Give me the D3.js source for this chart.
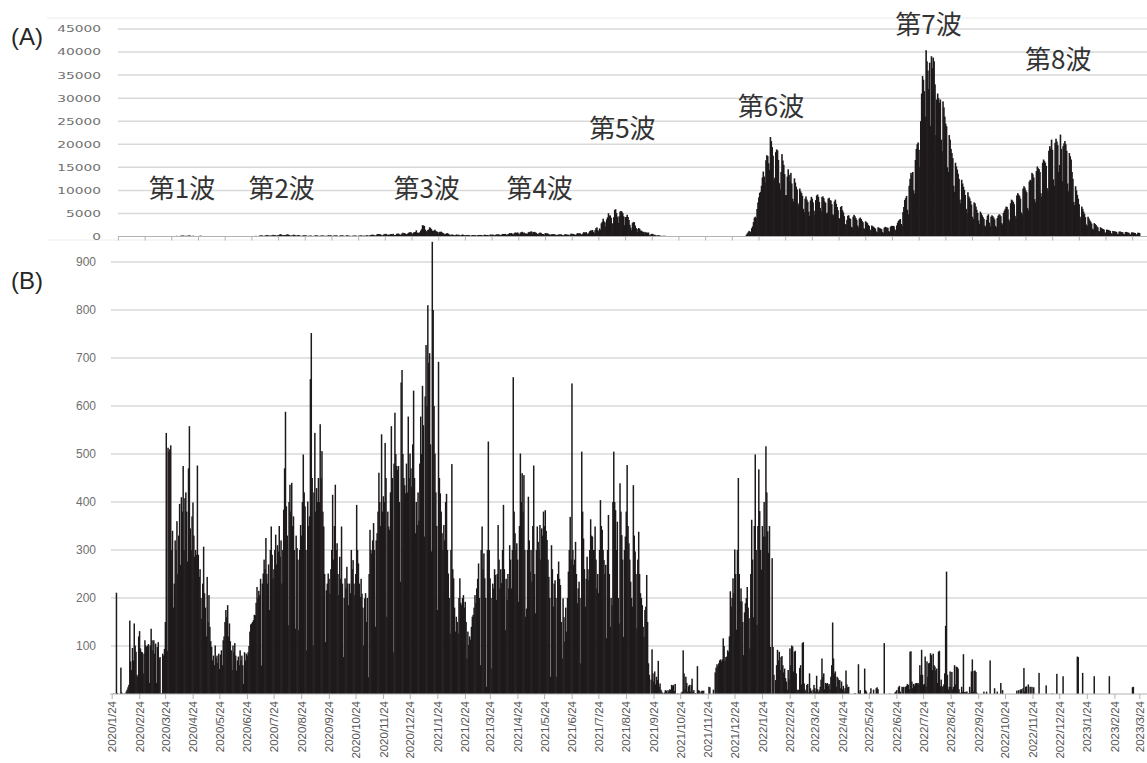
<!DOCTYPE html>
<html>
<head>
<meta charset="utf-8">
<script src="https://cdn.jsdelivr.net/npm/d3@7"></script>
<style>
  body { margin: 0; background: #fff; }
  svg { display: block; }
</style>
</head>
<body>
<div id="chart"></div>
<script>
// month ticks (24th of every month) - every data row below starts on one of these dates
var monthLabels = ["2020/1/24", "2020/2/24", "2020/3/24", "2020/4/24", "2020/5/24", "2020/6/24",
    "2020/7/24", "2020/8/24", "2020/9/24", "2020/10/24", "2020/11/24", "2020/12/24",
    "2021/1/24", "2021/2/24", "2021/3/24", "2021/4/24", "2021/5/24", "2021/6/24",
    "2021/7/24", "2021/8/24", "2021/9/24", "2021/10/24", "2021/11/24", "2021/12/24",
    "2022/1/24", "2022/2/24", "2022/3/24", "2022/4/24", "2022/5/24", "2022/6/24",
    "2022/7/24", "2022/8/24", "2022/9/24", "2022/10/24", "2022/11/24", "2022/12/24",
    "2023/1/24", "2023/2/24", "2023/3/24"];

// (A) daily new cases, one row per month (from the 24th)
var casesA = [
    [1,0,0,0,0,1,1,0,0,0,0,0,0,0,0,0,0,0,1,0,1,0,2,1,8,3,2,1,3,3,2],
    [1,2,3,2,1,3,1,1,3,8,6,6,2,9,2,5,3,7,0,10,6,2,3,10,12,7,3,5,16],
    [17,41,47,40,63,68,68,13,78,66,97,89,116,143,83,79,81,144,178,189,197,166,91,161,126,149,201,206,181,107,102],
    [161,134,103,72,39,112,47,46,165,154,91,87,58,102,38,23,39,22,15,36,30,10,9,30,10,5,11,3,5,2],
    [14,8,10,11,15,22,11,14,22,5,13,34,12,28,26,20,14,12,18,22,24,25,47,48,27,41,35,29,31,55,31],
    [55,48,54,57,60,58,54,67,107,124,131,111,102,75,224,206,243,206,119,143,165,286,293,290,206,168,175,238,187,366],
    [260,295,239,131,266,250,367,463,472,292,258,309,263,331,360,462,429,331,197,188,222,206,389,339,260,161,207,339,258,212,148],
    [95,182,236,250,226,247,148,100,170,141,211,181,116,77,170,149,276,187,218,146,80,163,191,220,172,218,98,88,195,59,270],
    [195,215,270,144,78,194,218,196,235,207,108,102,177,258,186,249,178,146,78,166,283,203,180,150,132,77,139,186,185,186],
    [203,124,102,158,171,221,215,199,87,209,122,170,269,242,189,103,293,317,393,374,352,255,180,298,493,534,522,539,391,314,186],
    [401,481,570,561,418,311,418,372,500,533,449,584,327,299,352,602,595,621,480,305,460,678,822,664,736,556,460,563,748,888],
    [884,949,708,481,856,944,981,1337,783,814,816,884,1278,1591,2447,2392,2268,1494,1219,970,1433,1502,2001,1809,1592,1204,1240,1274,1471,1175,1070],
    [986,618,1026,973,1064,868,769,633,393,556,676,734,577,429,276,412,370,429,307,245,291,434,377,369,371,266,178,341,445,327,275],
    [213,340,270,329,337,232,121,232,316,279,301,293,237,116,290,335,304,340,320,239,175,294,409,303,323,342,256,187],
    [420,394,376,430,313,234,364,414,475,440,446,355,249,399,555,545,537,570,421,306,510,591,729,667,759,543,405,711,843,861,759],
    [876,635,425,828,925,1027,698,879,708,621,609,591,907,1010,907,1121,1032,573,963,1010,854,772,542,419,732,843,802,614,541,535],
    [340,743,684,689,614,539,309,393,471,487,508,472,436,351,288,369,440,439,436,467,304,209,337,501,452,453,388,376,236,435,619],
    [570,562,534,386,317,476,714,673,660,716,518,342,593,920,896,822,950,614,502,830,1149,1308,1271,1410,1008,727,1387,1832,1979,1359],
    [1128,1763,1429,2848,3177,3865,3300,3058,2195,3709,4166,5042,4515,4566,4066,2884,2612,4200,5773,5908,5094,4295,2962,4377,5386,5534,5405,5074,4392,2447,4220],
    [4228,4704,4227,3581,2539,1915,1332,2909,3168,3099,2362,1853,1629,968,1834,1675,1242,1273,1067,1007,611,1004,831,871,782,862,302,253,537,585,542],
    [235,382,265,154,248,267,218,200,144,87,149,143,138,139,60,49,77,72,62,82,60,40,36,41,36,29,26,32,26,36],
    [19,17,29,36,21,32,23,22,9,18,22,24,32,21,21,6,18,20,23,15,26,20,5,16,17,16,21,20,9,8,12],
    [12,13,21,24,13,11,9,15,17,13,18,22,20,16,9,21,22,17,32,33,29,21,12,28,21,40,32,30,17,21],
    [37,29,31,24,33,46,64,76,78,79,84,103,79,390,641,922,1224,1000,1053,1800,2198,3124,4051,4300,4000,5963,7377,8500,9468,9699,11000],
    [12813,14086,13000,11751,16538,17631,17433,15895,14445,21576,20679,19390,17526,12214,12751,18287,18891,18676,16604,11568,10176,14000,17864,16491,15525,13515,8970,9000,13000,14567,13376],
    [12000,13800,11500,8200,7600,12600,11700,10800,10200,7200,6700,10400,9800,9400,8800,6000,5300,8200,8700,8000,7500,5400,4500,7800,8600,8200,7400,5600],
    [4700,7900,8900,9100,8600,7500,6200,5500,8600,8700,8300,7600,7300,5000,5200,8200,8400,7900,7800,7000,4800,4600,7600,8000,7100,6400,5700,4000,3800,6400,6600],
    [5700,5200,4400,2700,2500,3600,4500,4600,4000,3800,2100,1900,4300,4700,4400,4000,3600,2400,2000,3900,4100,3800,3400,3100,1800,1600,3300,3100,2900,2500],
    [2300,1500,1200,2400,2200,2100,1900,1700,1100,900,2000,1900,1800,1700,1600,1000,800,1900,2100,2000,1900,1900,1200,1000,2100,2300,2300,2300,2200,1500,1300],
    [2400,3000,3400,3600,3800,2700,2300,5300,6400,7900,8300,8800,5800,4800,11000,12500,13800,13300,14000,10000,9300,16600,19000,20000,20400,18800,15000,25000,31000,34800],
    [34000,31500,26000,40400,38000,36000,32000,37700,24000,39100,36500,38800,38000,33000,22000,29700,31000,30000,29000,29700,21000,18500,29300,28000,26000,24500,23900,15000,14000,22000,21000],
    [19000,18100,17000,11000,9700,16000,15200,14500,13600,12500,8000,7200,12300,11500,10800,10100,9000,6000,5000,9600,8700,8300,7700,6900,4300,3800,7400,7200,6500,5800,5100],
    [3500,2700,5400,5000,4600,4200,3800,2400,2100,3600,4500,4800,3000,2200,4300,4600,4400,4100,3700,2300,2000,4000,4500,4800,4700,4400,2900,2600,5100,5600],
    [6000,6500,6400,5900,3700,3300,7200,8000,7800,7500,7000,4500,4000,8900,9400,9100,8800,8200,5200,4800,10400,10900,10600,10000,9600,6200,5700,11900,12300,12000,13800],
    [13500,12800,8100,7400,14200,15200,14800,14600,14000,9400,8600,16000,16700,16400,16000,15300,10500,9900,18600,19600,19100,21000,18800,12400,11000,20300,21200,20600,19800,14000],
    [15500,22100,19000,12000,19600,20200,20700,20000,18600,11500,9800,18100,17400,16700,14000,12500,7500,6800,10900,10000,9000,8200,7000,4300,3800,6500,6000,5400,4900,4200,2600],
    [2300,4300,3900,3500,3200,2800,1700,1500,2900,2700,2500,2200,2000,1200,1100,2000,1800,1700,1600,1500,900,800,1500,1450,1400,1300,1200,700,600,1200,1150],
    [1100,1050,1000,600,500,1050,1100,1000,950,900,550,450,950,1000,900,850,800,500,400,900,870,850,800,760,480,400,820,800],
    [750]
];

// (B) daily counts, same row layout
var countsB = [
    [0,0,1,0,0,211,2,0,0,0,55,3,0,0,1,0,5,9,14,19,153,68,50,96,70,147,101,88,40,36,120],
    [131,95,88,87,43,84,112,101,98,101,104,23,101,136,112,91,112,84,105,23,98,108,74,77,0,2,84,80,94],
    [150,544,90,513,505,510,518,300,340,180,230,320,300,360,250,330,396,269,410,380,475,300,408,420,380,276,470,558,345,300,370],
    [399,330,286,300,290,476,290,244,260,200,157,230,307,210,180,120,244,150,206,140,110,98,70,80,60,101,75,80,65,84],
    [52,82,91,60,112,120,150,175,160,185,120,147,110,91,50,101,88,106,80,49,70,78,60,91,70,80,60,21,87,70,84],
    [80,87,100,130,145,147,150,154,165,164,190,223,200,215,206,240,59,230,251,280,260,325,250,230,270,175,300,349,290,241],
    [260,300,332,270,310,297,350,286,320,230,300,384,470,588,391,330,143,400,436,380,440,350,370,300,136,330,304,280,133,300,352],
    [330,400,499,420,391,300,91,401,350,370,656,752,450,101,420,544,380,429,400,450,400,562,450,506,380,349,250,108,216,230,251],
    [240,209,260,300,415,280,350,436,300,314,250,206,286,240,349,230,77,200,241,220,265,230,185,230,210,300,260,279,230,206],
    [250,394,300,272,230,202,240,209,180,101,199,210,150,200,35,250,342,300,293,320,356,300,140,320,335,380,461,400,350,541,380],
    [412,400,523,450,161,380,349,342,420,558,450,87,480,586,500,475,467,475,400,234,649,675,500,450,435,418,480,420,578,450],
    [501,470,432,520,632,450,335,400,352,420,361,480,578,500,642,560,328,620,727,600,810,690,710,520,297,942,800,600,501,420,350],
    [175,692,450,418,380,335,300,352,320,400,417,300,251,200,126,300,479,260,241,180,130,161,150,126,200,241,190,185,200,206,180],
    [192,150,74,130,102,120,113,140,161,165,180,206,190,220,240,272,200,60,300,349,260,293,241,200,15,300,526,300],
    [241,200,53,230,220,260,248,196,250,352,280,220,260,231,300,394,260,133,240,196,250,220,310,280,220,300,660,380,335,300,314],
    [280,192,350,501,400,460,380,456,300,161,178,300,411,320,255,300,234,350,476,250,168,300,349,317,300,352,280,345,330,380],
    [350,383,340,321,280,244,200,36,310,260,182,230,237,200,36,250,276,240,227,150,74,199,160,109,180,130,200,255,300,369,280],
    [647,300,269,280,317,250,189,220,234,200,64,505,380,324,260,182,240,286,260,237,300,364,330,328,300,300,349,280,220,250],
    [210,300,404,350,342,300,279,250,269,116,300,373,250,140,200,185,400,505,400,383,300,359,200,147,439,380,331,280,119,300,328],
    [380,477,350,314,280,234,200,182,435,330,297,250,137,280,338,250,210,200,185,140,119,175,182,248,150,64,40,0,30,93,43],
    [26,47,20,36,29,69,15,22,9,5,2,0,3,8,7,2,8,5,10,8,19,17,19,6,21,0,0,1,0,0],
    [0,3,5,91,43,10,36,23,5,16,19,5,19,32,4,8,0,2,0,58,8,7,0,5,7,6,7,0,0,0,0],
    [0,15,14,0,0,0,9,0,45,55,62,58,64,70,72,68,72,116,100,69,77,78,91,88,120,214,182,200,241,210],
    [301,250,134,300,450,250,193,220,193,150,81,170,189,200,223,180,158,95,250,363,280,160,350,499,300,144,350,468,381,300,259],
    [350,328,400,328,516,420,339,294,350,98,1,283,98,40,0,29,60,92,70,88,50,77,79,60,45,53,33,26,9,50,30],
    [95,60,101,99,47,88,90,43,9,8,9,54,60,20,106,108,22,9,5,19,21,3,43,12,7,2,9,19],
    [12,5,38,10,4,8,15,30,74,36,43,10,23,21,23,17,21,10,36,60,149,74,43,47,15,36,33,29,29,12,26],
    [10,17,5,12,49,20,14,15,0,0,0,0,0,0,2,0,0,0,62,3,8,0,0,0,0,53,8,5,0,0],
    [0,3,12,0,0,9,0,0,12,14,10,0,0,0,0,0,0,106,0,0,0,0,0,1,0,0,0,0,0,3,5],
    [8,0,14,17,5,0,15,14,15,0,15,17,21,19,10,88,89,26,12,21,17,22,23,22,23,20,60,40,92,40],
    [19,21,78,15,68,36,64,65,85,81,50,84,60,57,49,53,23,88,90,16,30,16,15,20,43,142,255,40,9,15,47],
    [15,46,10,15,60,20,57,56,53,10,3,2,15,5,83,4,3,5,5,0,2,15,3,47,72,5,48,49,46,3,0],
    [0,0,0,0,0,0,5,0,0,5,0,0,0,70,0,0,0,0,12,0,0,5,0,0,0,23,0,8,0,0],
    [0,0,0,0,0,0,0,0,0,0,0,0,0,7,0,8,0,9,10,0,12,54,5,15,16,0,20,0,15,0,15],
    [0,14,0,0,0,0,0,44,0,0,0,0,0,0,0,18,0,0,0,0,0,0,1,0,0,0,0,42,0,0],
    [0,0,0,0,37,0,0,0,0,0,0,0,0,0,0,0,0,0,0,0,78,77,0,0,0,0,44,0,0,0,0],
    [0,0,0,0,0,0,0,0,37,0,0,0,0,0,0,0,0,0,0,0,0,0,0,0,0,37,0,0,0,0,0],
    [0,0,0,0,0,0,0,0,0,0,0,0,0,0,0,0,0,0,0,0,14,15,0,0,0,0,0,0],
    [0]
];

var waveNames = ["第1波", "第2波", "第3波", "第4波", "第5波", "第6波", "第7波", "第8波"];
var waveDates = ["2020/4/12", "2020/8/2", "2021/1/12", "2021/5/19", "2021/8/20", "2022/2/3", "2022/7/30", "2022/12/23"];
var waveLevels = [10500, 10500, 10500, 10500, 23400, 28200, 46000, 38400];

var yTicksA = [0, 5000, 10000, 15000, 20000, 25000, 30000, 35000, 40000, 45000];
var yTicksB = [100, 200, 300, 400, 500, 600, 700, 800, 900];

var widthSvg = 1147,
    heightSvg = 763;

var parse = d3.timeParse("%Y/%m/%d");
var monthDates = monthLabels.map(parse);

function flatten(rows) {
    var out = [];
    rows.forEach(function (row, i) {
        row.forEach(function (v, j) {
            out.push({ date: d3.timeDay.offset(monthDates[i], j), value: v });
        });
    });
    return out;
}

var dataA = flatten(casesA),
    dataB = flatten(countsB);

var svg = d3.select("#chart").append("svg")
    .attr("width", widthSvg)
    .attr("height", heightSvg);

var xScale = d3.scaleTime()
    .domain([monthDates[0], monthDates[monthDates.length - 1]])
    .range([111.7, 1139.3]);

var dayW = xScale(d3.timeDay.offset(monthDates[0], 1)) - xScale(monthDates[0]);

var yA = d3.scaleLinear().domain([0, 45000]).range([236.5, 29]);
var yB = d3.scaleLinear().domain([0, 900]).range([694, 262]);

var barColor = "#1e1a1b",
    gridColor = "#d9d9d9",
    axisColor = "#b3b3b3";

// panel A ticks every 30 days, plot area starts at the first one
var ticksA = d3.range(7, 1156, 30).map(function (k) {
    return d3.timeDay.offset(monthDates[0], k);
});
var leftA = xScale(ticksA[0]);

// frame lines of panel A
svg.append("g")
    .selectAll("line")
    .data([18, 240])
    .enter().append("line")
    .attr("x1", 47).attr("x2", widthSvg)
    .attr("y1", function (d) { return d; })
    .attr("y2", function (d) { return d; })
    .attr("stroke", "#ececec")
    .attr("stroke-width", 1);

// ---------- panel A ----------
var gA = svg.append("g");

gA.append("g")
    .selectAll("line")
    .data(yTicksA.slice(1))
    .enter().append("line")
    .attr("x1", leftA).attr("x2", widthSvg)
    .attr("y1", function (d) { return yA(d); })
    .attr("y2", function (d) { return yA(d); })
    .attr("stroke", gridColor)
    .attr("stroke-width", 1.5);

gA.append("g")
    .attr("font-family", "DejaVu Sans")
    .attr("font-size", 9.5)
    .attr("fill", "#6f6f6f")
    .attr("text-anchor", "end")
    .selectAll("text")
    .data(yTicksA)
    .enter().append("text")
    .attr("transform", function (d) {
        return "translate(101," + yA(d) + ") scale(1.45,1)";
    })
    .attr("dy", "0.36em")
    .text(function (d) { return d; });

gA.append("g")
    .attr("fill", barColor)
    .selectAll("rect")
    .data(dataA.filter(function (d) { return d.value > 0; }))
    .enter().append("rect")
    .attr("x", function (d) { return xScale(d.date) - dayW / 2; })
    .attr("y", function (d) { return yA(d.value); })
    .attr("width", dayW + 0.7)
    .attr("height", function (d) { return yA(0) - yA(d.value); });

var axisA = gA.append("g")
    .attr("transform", "translate(0," + yA(0) + ")")
    .call(d3.axisBottom(xScale).tickValues(ticksA).tickFormat("").tickSize(4).tickSizeOuter(0));
axisA.select(".domain").remove();
axisA.selectAll("line").attr("stroke", axisColor);
axisA.append("line")
    .attr("x1", leftA).attr("x2", widthSvg)
    .attr("stroke", axisColor)
    .attr("stroke-width", 1.2);

gA.append("g")
    .attr("font-family", "Noto Sans CJK JP")
    .attr("font-size", 26)
    .attr("fill", "#333")
    .attr("text-anchor", "middle")
    .selectAll("text")
    .data(waveNames)
    .enter().append("text")
    .attr("x", function (d, i) { return xScale(parse(waveDates[i])); })
    .attr("y", function (d, i) { return yA(waveLevels[i]); })
    .attr("dy", "0.37em")
    .text(function (d) { return d; });

// ---------- panel B ----------
var gB = svg.append("g");

gB.append("g")
    .selectAll("line")
    .data(yTicksB)
    .enter().append("line")
    .attr("x1", 111).attr("x2", widthSvg)
    .attr("y1", function (d) { return yB(d); })
    .attr("y2", function (d) { return yB(d); })
    .attr("stroke", gridColor)
    .attr("stroke-width", 1.5);

gB.append("g")
    .attr("font-family", "Liberation Sans")
    .attr("font-size", 12)
    .attr("fill", "#6f6f6f")
    .attr("text-anchor", "end")
    .selectAll("text")
    .data(yTicksB)
    .enter().append("text")
    .attr("x", 96)
    .attr("y", function (d) { return yB(d); })
    .attr("dy", "0.35em")
    .text(function (d) { return d; });

gB.append("g")
    .attr("fill", barColor)
    .selectAll("rect")
    .data(dataB.filter(function (d) { return d.value > 0; }))
    .enter().append("rect")
    .attr("x", function (d) { return xScale(d.date) - dayW / 2; })
    .attr("y", function (d) { return yB(d.value); })
    .attr("width", dayW + 0.6)
    .attr("height", function (d) { return yB(0) - yB(d.value); });

var axisB = gB.append("g")
    .attr("transform", "translate(0," + yB(0) + ")")
    .call(d3.axisBottom(xScale)
        .tickValues(monthDates)
        .tickFormat(function (d, i) { return monthLabels[i]; })
        .tickSize(5)
        .tickSizeOuter(0));
axisB.select(".domain").remove();
axisB.selectAll("line").attr("stroke", axisColor);
axisB.append("line")
    .attr("x1", 110).attr("x2", widthSvg)
    .attr("stroke", axisColor)
    .attr("stroke-width", 1.2);
axisB.selectAll("text")
    .attr("font-family", "Liberation Sans")
    .attr("font-size", 11.5)
    .attr("fill", "#555")
    .attr("transform", "rotate(-90)")
    .attr("x", -7)
    .attr("y", 0)
    .attr("dy", "0.35em")
    .attr("text-anchor", "end");

// panel letters
svg.append("g")
    .attr("font-family", "Liberation Sans")
    .attr("font-size", 24)
    .attr("fill", "#262626")
    .selectAll("text")
    .data([["(A)", 45], ["(B)", 289]])
    .enter().append("text")
    .attr("x", 11)
    .attr("y", function (d) { return d[1]; })
    .text(function (d) { return d[0]; });
</script>
</body>
</html>
